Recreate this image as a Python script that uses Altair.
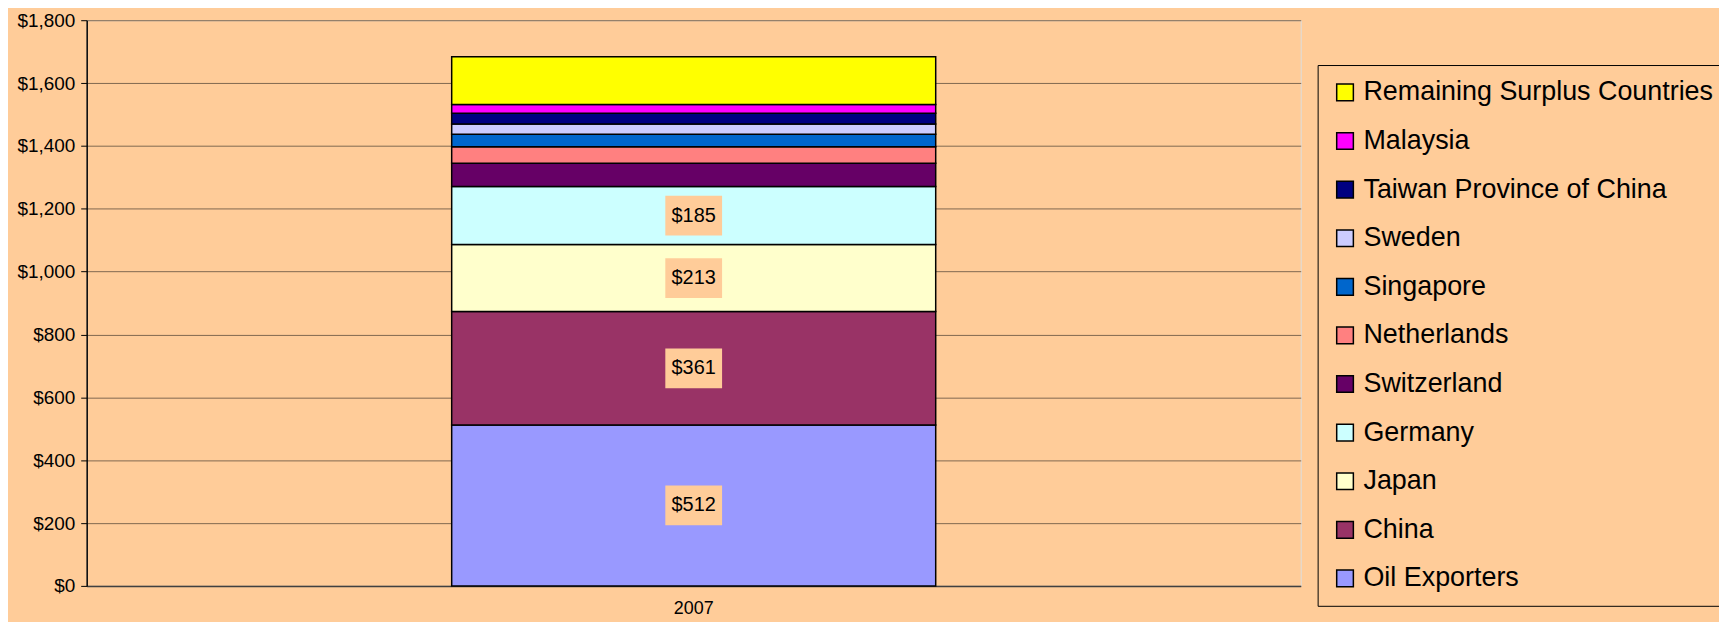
import altair as alt
import pandas as pd

year = "2007"
countries = ["Oil Exporters", "China", "Japan", "Germany", "Switzerland", "Netherlands",
             "Singapore", "Sweden", "Taiwan Province of China", "Malaysia",
             "Remaining Surplus Countries"]
values = [512, 361, 213, 185, 74, 52, 40, 33, 34, 28, 152]
colors = ["#9999FF", "#993366", "#FFFFCC", "#CCFFFF", "#660066", "#FF8080",
          "#0066CC", "#CCCCFF", "#000080", "#FF00FF", "#FFFF00"]
labeled = [True, True, True, True, False, False, False, False, False, False, False]
y_ticks = [0, 200, 400, 600, 800, 1000, 1200, 1400, 1600, 1800]

df = pd.DataFrame({
    "year": [year] * len(countries),
    "country": countries,
    "value": values,
    "idx": list(range(len(countries))),
    "labeled": labeled,
})

legend_order = countries[::-1]
legend_colors = colors[::-1]

FONT = "Liberation Sans"
BG = "#FFCC99"

x_enc = alt.X("year:N", axis=alt.Axis(title=None, labelAngle=0, ticks=False, grid=False,
                                      domainColor="#404040", domainWidth=1.5,
                                      labelFontSize=18, labelColor="black", labelPadding=14))
y_scale = alt.Scale(domain=[0, 1800], nice=False)

bars = alt.Chart(df).mark_bar(size=486, stroke="black", strokeWidth=1.5).encode(
    x=x_enc,
    y=alt.Y("value:Q", stack="zero", scale=y_scale,
            axis=alt.Axis(title=None, values=y_ticks, format="$,.0f",
                          domainColor="black", domainWidth=1.5,
                          tickColor="black", tickSize=6, labelPadding=6,
                          labelFontSize=19, labelColor="black",
                          gridColor="#806850", gridWidth=1)),
    color=alt.Color("country:N",
                    scale=alt.Scale(domain=legend_order, range=legend_colors),
                    legend=alt.Legend(title=None, orient="none", legendX=1236, legendY=45,
                                      strokeColor="black", fillColor=BG, padding=14,
                                      labelFontSize=27, labelColor="black", labelFont=FONT,
                                      labelLimit=0, symbolType="square", symbolSize=280,
                                      symbolStrokeColor="black", symbolStrokeWidth=1.5,
                                      symbolOpacity=1, rowPadding=20.8, labelOffset=5)),
    order=alt.Order("idx:Q", sort="ascending"),
)

stacked = alt.Chart(df).transform_stack(
    stack="value", groupby=["year"], as_=["y0", "y1"],
    sort=[alt.SortField("idx", order="ascending")]
).transform_calculate(
    mid="(datum.y0 + datum.y1) / 2"
).transform_filter("datum.labeled")

boxes = stacked.mark_point(
    shape="M-1,-0.7L1,-0.7L1,0.7L-1,0.7Z", size=3249, filled=True, fill=BG,
    opacity=1, strokeWidth=0
).encode(x=alt.X("year:N"), y=alt.Y("mid:Q", scale=y_scale))

texts = stacked.mark_text(fontSize=20, color="black", font=FONT, baseline="middle").encode(
    x=alt.X("year:N"), y=alt.Y("mid:Q", scale=y_scale),
    text=alt.Text("value:Q", format="$,.0f"))

chart = alt.layer(bars, boxes, texts).properties(
    width=1219, height=568,
    autosize=alt.AutoSizeParams(type="none"),
    padding={"left": 79, "top": 11, "right": 420, "bottom": 35},
    background=BG,
).configure_view(
    stroke="#808080", strokeWidth=1.5
).configure(font=FONT)

chart.save("out.html", embed_options={"renderer": "svg", "actions": False})
